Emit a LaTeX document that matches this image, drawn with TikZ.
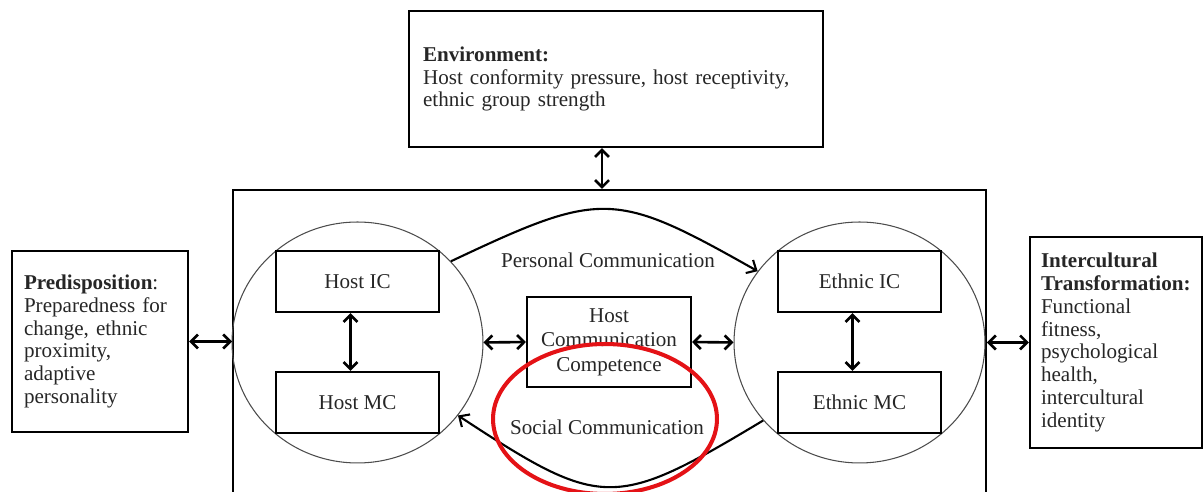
\documentclass[tikz,border=0pt]{standalone}
\usepackage{fontspec}
\setmainfont{Liberation Serif}
\usetikzlibrary{arrows.meta,shapes.geometric}
\definecolor{markred}{RGB}{228,18,22}

\begin{document}
\begin{tikzpicture}[x=0.02cm, y=-0.02cm,
  every node/.style={font=\fontsize{12}{13}\selectfont, text=black!85},
  box/.style={draw=black, line width=1.2pt},
  ring/.style={ellipse, draw=black!70, line width=0.6pt, minimum width=5.02cm, minimum height=4.82cm, inner sep=0pt},
  inbox/.style={box, minimum width=3.26cm, minimum height=1.22cm, inner sep=0pt},
  both/.style={line width=1.5pt, {Straight Barb[length=1.4mm,width=2.8mm]}-{Straight Barb[length=1.4mm,width=2.8mm]}},
  flow/.style={line width=1.2pt, -{Straight Barb[length=1.6mm,width=3mm]}}]
\useasboundingbox (0,0) rectangle (1204,492);

%outer boxes
\node[box, text width=7.72cm, inner xsep=0.28cm, minimum height=2.72cm, align=left] (env) at (616,79)
  {\textbf{Environment:}\\Host conformity pressure, host receptivity,\\ethnic group strength};
\node[box, text width=3.04cm, inner xsep=0.24cm, minimum height=3.62cm, align=left] (pre) at (100,341.5)
  {\textbf{Predisposition}:\\Preparedness for\\change, ethnic\\proximity,\\adaptive\\personality};
\node[box, text width=3.0cm, inner xsep=0.22cm, minimum height=4.22cm, align=left] (trans) at (1116,342.5)
  {\textbf{Intercultural}\\\textbf{Transformation:}\\Functional\\fitness,\\psychological\\health,\\intercultural\\identity};
\node[box, minimum width=15.06cm, minimum height=6.2cm] (core) at (609.5,345) {};

%rings
\foreach \cx/\nm/\lbl in {357.5/host/Host, 859.5/eth/Ethnic} {
  \node[ring] (\nm-ring) at (\cx,342.5) {};
  \node[inbox] (\nm-ic) at (\cx,281.5) {\lbl\ IC};
  \node[inbox] (\nm-mc) at (\cx,402.5) {\lbl\ MC};
  \draw[both] ([xshift=-0.14cm]\nm-ic.south) -- ([xshift=-0.14cm]\nm-mc.north);
}

%centre
\node[box, minimum width=3.28cm, minimum height=1.8cm, align=center, inner sep=0pt,
  font=\fontsize{12}{14}\selectfont] (hcc) at (609,342)
  {Host\\Communication\\Competence};

%links
\draw[both] ([xshift=-0.28cm]env.south) -- ([xshift=-0.28cm]env.south |- core.north);
\draw[both] (pre.east) -- (pre.east -| core.west);
\draw[both] (trans.west -| core.east) -- (trans.west);
\draw[both] (host-ring.east) -- (hcc.west);
\draw[both] (hcc.east) -- (eth-ring.west);

%communication
\draw[flow] (host-ring.41) .. controls (602,190) and (614,190) .. (eth-ring.145);
\draw[flow] (eth-ring.219) .. controls (614,510) and (602,510) .. (host-ring.-36);
\node (pers) at (608,260) {Personal Communication};
\node (soc) at (607,427) {Social Communication};

%highlight
\node[ellipse, draw=markred, line width=2.3pt, minimum width=4.48cm, minimum height=3.0cm] (hilite) at (605,419) {};
\end{tikzpicture}
\end{document}
